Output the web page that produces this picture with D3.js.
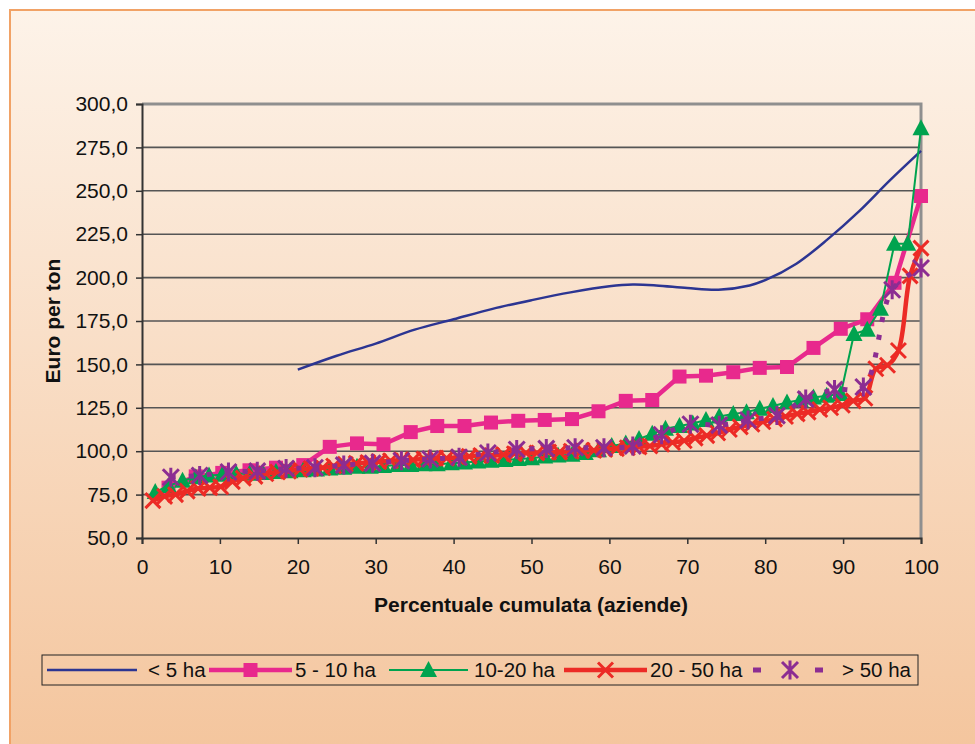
<!DOCTYPE html>
<html><head><meta charset="utf-8">
<script src="https://cdn.jsdelivr.net/npm/d3@7"></script>
<style>
html,body{margin:0;padding:0;background:#fff;}
svg{display:block;font-family:"Liberation Sans",Arial,sans-serif;}
</style></head>
<body>
<svg id="chart" width="975" height="744"></svg>
<script>
// ---------- data ----------
const seriesNames = ["< 5 ha", "5 - 10 ha", "10-20 ha", "20 - 50 ha", "> 50 ha"];
const yTicks = [50, 75, 100, 125, 150, 175, 200, 225, 250, 275, 300];
const xTicks = [0, 10, 20, 30, 40, 50, 60, 70, 80, 90, 100];

const xLt5 = [20,25,30,35,40,45,50,55,60,63,66,70,74,78,80,84,88,92,96,100];
const yLt5 = [147,155,162,170,176,182,187,191.5,195,196,195.5,194,193,195.5,198.5,208,222,238,256,273];

const x5_10 = [3.4,6.9,10.3,13.8,17.2,20.7,24.1,27.6,31.0,34.5,37.9,41.4,44.8,48.3,51.7,55.2,58.6,62.1,65.5,69.0,72.4,75.9,79.3,82.8,86.2,89.7,93.1,96.6,100];
const y5_10 = [79,85.5,87.5,89,90.5,92,102.5,104.5,104,111,114.5,114.5,116.5,117.5,118,118.5,123,129,129.5,143,143.5,145.5,148,148.5,159.5,170.5,176,197,247];

const x10_20 = [1.7,3.4,5.2,6.9,8.6,10.3,12.1,13.8,15.5,17.2,19.0,20.7,22.4,24.1,25.9,27.6,29.3,31.0,32.8,34.5,36.2,37.9,39.7,41.4,43.1,44.8,46.6,48.3,50.0,51.7,53.4,55.2,56.9,58.6,60.3,62.1,63.8,65.5,67.2,69.0,70.7,72.4,74.1,75.9,77.6,79.3,81.0,82.8,84.5,86.2,87.9,89.7,91.4,93.1,94.8,96.6,98.3,100];
const y10_20 = [76.5,80,83,85,86,86.5,87,87,87.5,88,88.5,89,89.5,90,90.5,91,91,91.5,92,92,92.5,92.5,93,93.5,94,94.5,95,95.5,96,97,97.5,98,99,100.5,103,104.5,107,110,113,114.5,116,118,120,121.5,122.5,124.5,126,128,129.5,131,132,133,167.5,170,182,219.5,219.5,286];

const x20_50 = [1.4,2.9,4.3,5.8,7.2,8.7,10.1,11.6,13.0,14.5,15.9,17.4,18.8,20.3,21.7,23.2,24.6,26.1,27.5,29.0,30.4,31.9,33.3,34.8,36.2,37.7,39.1,40.6,42.0,43.5,44.9,46.4,47.8,49.3,50.7,52.2,53.6,55.1,56.5,58.0,59.4,60.9,62.3,63.8,65.2,66.7,68.1,69.6,71.0,72.5,73.9,75.4,76.8,78.3,79.7,81.2,82.6,84.1,85.5,87.0,88.4,89.9,91.3,92.8,94.2,95.7,97.1,98.6,100];
const y20_50 = [71.5,74,75,77,78.5,79,79.5,82.5,84.5,85.5,87,88,88.5,89.5,90,90.5,91.5,92.5,93,93.5,94,94.5,95,95,95.5,96,96,96.5,97,97.5,97.5,98,98.5,99,99,99.5,99.5,100,100.5,100.5,101,101.5,102,102.5,103,104,105,106,107.5,109,110.5,112.5,114,115.5,117,118.5,120,121.5,122.5,124,125,126.5,129,130.5,147.5,149.5,158,201,217];

const xGt50 = [3.7,7.4,11.1,14.8,18.5,22.2,25.9,29.6,33.3,37.0,40.7,44.4,48.1,51.9,55.6,59.3,63.0,66.7,70.4,74.1,77.8,81.5,85.2,88.9,92.6,96.3,100];
const yGt50 = [85,86,88,88.5,90,90.5,92,93,94.5,95.5,96.5,99,101,101.5,102,102,103,109.5,115.5,115,118,120.5,130,135.5,137,193,205.5];

// ---------- setup ----------
const svg = d3.select("#chart");
const W = 975, H = 744;
const plot = {left: 142, right: 921, top: 104, bottom: 538};

const defs = svg.append("defs");
const grad = defs.append("linearGradient").attr("id","bg").attr("x1",0).attr("y1",0).attr("x2",0).attr("y2",1);
grad.append("stop").attr("offset","0%").attr("stop-color","#fdf3e9");
grad.append("stop").attr("offset","100%").attr("stop-color","#f4c59d");

svg.append("rect").attr("x",10).attr("y",10).attr("width",W).attr("height",H)
  .attr("fill","url(#bg)").attr("stroke","#f1a266").attr("stroke-width",2);

const x = d3.scaleLinear().domain([0,100]).range([plot.left, plot.right]);
const y = d3.scaleLinear().domain([50,300]).range([plot.bottom, plot.top]);

const loc = d3.formatLocale({decimal: ",", thousands: ".", grouping: [3], currency: ["", "€"]});
const fmt = loc.format(".1f");

// gridlines
svg.append("g").selectAll("line").data(yTicks.filter(v => v > 50 && v < 300)).join("line")
  .attr("x1", plot.left).attr("x2", plot.right)
  .attr("y1", d => y(d)).attr("y2", d => y(d))
  .attr("stroke","#555").attr("stroke-width",1.6);

// plot border top/right
svg.append("path")
  .attr("d", `M${plot.left},${y(300)}H${plot.right}V${y(50)}`)
  .attr("fill","none").attr("stroke","#8f8f8f").attr("stroke-width",3);

// axes
const yAxis = d3.axisLeft(y).tickValues(yTicks).tickFormat(fmt).tickSize(6).tickPadding(8);
const gy = svg.append("g").attr("transform",`translate(${plot.left},0)`).call(yAxis);
const xAxis = d3.axisBottom(x).tickValues(xTicks).tickFormat(d3.format("d")).tickSize(6).tickPadding(15);
const gx = svg.append("g").attr("transform",`translate(0,${plot.bottom})`).call(xAxis);
[gx, gy].forEach(g => {
  g.select(".domain").attr("stroke","#333").attr("stroke-width",2);
  g.selectAll(".tick line").attr("stroke","#333").attr("stroke-width",1.5);
  g.selectAll(".tick text").attr("fill","#111").attr("font-size","21px")
    .attr("font-family","'Liberation Sans',Arial,sans-serif");
});

// titles
svg.append("text").attr("x", 531).attr("y", 612)
  .attr("text-anchor","middle").attr("font-weight","bold").attr("font-size","21px").attr("fill","#111")
  .text("Percentuale cumulata (aziende)");
svg.append("text").attr("transform",`translate(60,${(plot.top+plot.bottom)/2}) rotate(-90)`)
  .attr("text-anchor","middle").attr("font-weight","bold").attr("font-size","21px").attr("fill","#111")
  .text("Euro per ton");

// ---------- series ----------
const colors = ["#2c3592", "#e8298d", "#00a34f", "#ec2b26", "#8c2d92"];
const zip = (xs, ys) => xs.map((v, i) => [v, ys[i]]);
const series = [
  {name: seriesNames[0], data: zip(xLt5, yLt5), color: colors[0], width: 2.5, curve: d3.curveCatmullRom.alpha(0.5), marker: null},
  {name: seriesNames[1], data: zip(x5_10, y5_10), color: colors[1], width: 4.5, curve: d3.curveLinear, marker: "square"},
  {name: seriesNames[2], data: zip(x10_20, y10_20), color: colors[2], width: 2, curve: d3.curveLinear, marker: "triangle"},
  {name: seriesNames[3], data: zip(x20_50, y20_50), color: colors[3], width: 4.5, curve: d3.curveCatmullRom.alpha(0.5), marker: "x"},
  {name: seriesNames[4], data: zip(xGt50, yGt50), color: colors[4], width: 5, curve: d3.curveCatmullRom.alpha(0.5), marker: "star", dash: "5,13"}
];

function drawMarker(g, type, cx, cy, color) {
  if (type === "square") {
    g.append("rect").attr("x", cx-7).attr("y", cy-7).attr("width",14).attr("height",14).attr("fill",color);
  } else if (type === "triangle") {
    g.append("path").attr("d", `M${cx},${cy-9}L${cx+8.5},${cy+7}L${cx-8.5},${cy+7}Z`).attr("fill",color);
  } else if (type === "x") {
    g.append("path").attr("d", `M${cx-7.5},${cy-7.5}L${cx+7.5},${cy+7.5}M${cx+7.5},${cy-7.5}L${cx-7.5},${cy+7.5}`)
      .attr("stroke",color).attr("stroke-width",3).attr("fill","none");
  } else if (type === "star") {
    g.append("path").attr("d", `M${cx-8},${cy-8}L${cx+8},${cy+8}M${cx+8},${cy-8}L${cx-8},${cy+8}M${cx},${cy-9.5}L${cx},${cy+9.5}`)
      .attr("stroke",color).attr("stroke-width",3).attr("fill","none");
  }
}

const lineGen = d3.line().x(d => x(d[0])).y(d => y(d[1]));
series.forEach(s => {
  const g = svg.append("g");
  g.append("path").datum(s.data)
    .attr("d", lineGen.curve(s.curve))
    .attr("fill","none").attr("stroke", s.color).attr("stroke-width", s.width)
    .attr("stroke-dasharray", s.dash || null).attr("stroke-linejoin","round");
  if (s.marker) s.data.forEach(d => drawMarker(g, s.marker, x(d[0]), y(d[1]), s.color));
});

// ---------- legend ----------
const lg = svg.append("g");
lg.append("rect").attr("x",42).attr("y",655).attr("width",876).attr("height",30)
  .attr("fill","none").attr("stroke","#222").attr("stroke-width",1);
const legendItems = [
  {x1: 47, x2: 137, tx: 148},
  {x1: 209, x2: 292, tx: 295},
  {x1: 389, x2: 468, tx: 474},
  {x1: 564, x2: 647, tx: 650},
  {x1: 750, x2: 830, tx: 842}
];
const ly = 670;
series.forEach((s, i) => {
  const it = legendItems[i];
  lg.append("line").attr("x1", it.x1).attr("x2", it.x2).attr("y1", ly).attr("y2", ly)
    .attr("stroke", s.color).attr("stroke-width", s.width)
    .attr("stroke-dasharray", s.dash ? "8,54" : null).attr("stroke-dashoffset", s.dash ? -3 : null);
  if (s.marker) drawMarker(lg, s.marker, (it.x1+it.x2)/2, ly, s.color);
  lg.append("text").attr("x", it.tx).attr("y", ly).attr("dy","0.36em")
    .attr("font-size","20.5px").attr("fill","#111").text(s.name);
});
</script>
</body></html>
